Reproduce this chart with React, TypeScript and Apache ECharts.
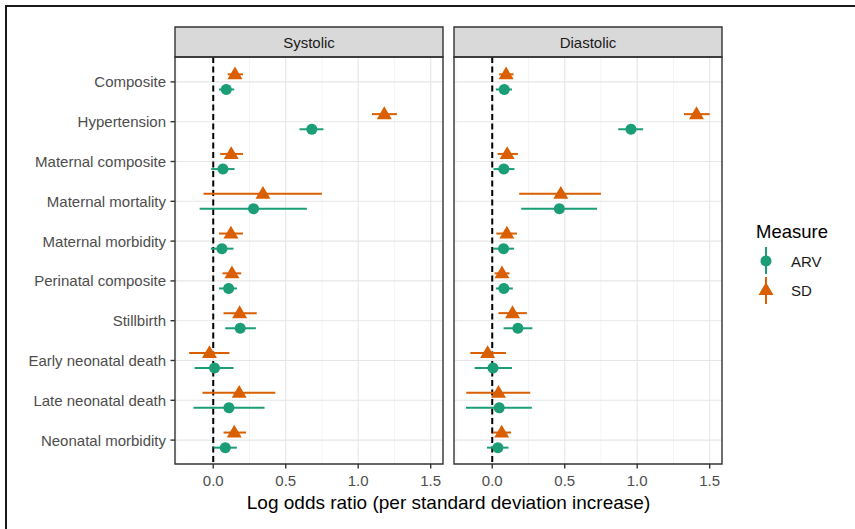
import React, { useEffect, useRef } from "react";
import * as echarts from "echarts";

const categories = [
  "Composite",
  "Hypertension",
  "Maternal composite",
  "Maternal mortality",
  "Maternal morbidity",
  "Perinatal composite",
  "Stillbirth",
  "Early neonatal death",
  "Late neonatal death",
  "Neonatal morbidity",
];

// [estimate, lower, upper]
const systolicARV = [
  [0.09, 0.04, 0.145],
  [0.68, 0.595, 0.76],
  [0.067, -0.014, 0.147],
  [0.278, -0.094, 0.646],
  [0.06, -0.016, 0.14],
  [0.106, 0.04, 0.163],
  [0.186, 0.083, 0.294],
  [0.009, -0.129, 0.14],
  [0.108, -0.136, 0.354],
  [0.083, 0.002, 0.163],
];
const systolicSD = [
  [0.15, 0.1, 0.205],
  [1.18, 1.095, 1.267],
  [0.124, 0.048, 0.205],
  [0.343, -0.067, 0.75],
  [0.122, 0.04, 0.205],
  [0.129, 0.064, 0.193],
  [0.182, 0.071, 0.3],
  [-0.026, -0.166, 0.112],
  [0.179, -0.074, 0.428],
  [0.145, 0.071, 0.226],
];
const diastolicARV = [
  [0.083, 0.025, 0.136],
  [0.957, 0.869, 1.041],
  [0.08, 0.009, 0.153],
  [0.463, 0.2, 0.723],
  [0.078, 0.005, 0.151],
  [0.08, 0.025, 0.142],
  [0.177, 0.078, 0.277],
  [0.005, -0.122, 0.136],
  [0.048, -0.181, 0.273],
  [0.039, -0.036, 0.112],
];
const diastolicSD = [
  [0.096, 0.048, 0.147],
  [1.409, 1.323, 1.5],
  [0.103, 0.037, 0.177],
  [0.473, 0.186, 0.75],
  [0.101, 0.028, 0.17],
  [0.067, 0.016, 0.119],
  [0.14, 0.043, 0.239],
  [-0.032, -0.151, 0.094],
  [0.043, -0.179, 0.262],
  [0.065, 0.005, 0.13],
];

const panelTitles = ["Systolic", "Diastolic"];
const measures = ["ARV", "SD"];
const xGridValues = [-0.25, 0, 0.25, 0.5, 0.75, 1, 1.25, 1.5];
const xTickValues = [0, 0.5, 1, 1.5];
const referenceValue = [0];
const xTitle = "Log odds ratio (per standard deviation increase)";
const legendTitle = "Measure";

const FONT = "'Liberation Sans', Arial, Helvetica, sans-serif";
const ARV_COLOR = "#1B9E77";
const SD_COLOR = "#D95F02";
const PANEL_LEFTS = [175, 454];
const PANEL_W = 268;
const PANEL_TOP = 57;
const PANEL_BOTTOM = 464;
const STRIP_TOP = 27;
const GRID_TOP = 62;
const GRID_H = 398;
const PAD_L = 2;
const FRAME = "#333333";
const TICK_LEN = 4.5;

const isMajor = (v: number) => xTickValues.some((t) => Math.abs(t - v) < 1e-6);

function buildOption() {
  const panels = [
    { arv: systolicARV, sd: systolicSD },
    { arv: diastolicARV, sd: diastolicSD },
  ];
  const grids: any[] = [];
  const xAxes: any[] = [];
  const yAxes: any[] = [];
  const series: any[] = [];

  panels.forEach((p, pi) => {
    const panelLeft = PANEL_LEFTS[pi];
    grids.push({ left: panelLeft + PAD_L, top: GRID_TOP, width: PANEL_W - PAD_L, height: GRID_H });
    xAxes.push({
      type: "value",
      gridIndex: pi,
      min: -0.25,
      max: 1.585,
      interval: 0.25,
      offset: PANEL_BOTTOM - (GRID_TOP + GRID_H),
      axisLine: { show: false },
      axisTick: { show: false },
      axisLabel: {
        customValues: xTickValues,
        fontSize: 15,
        color: "#4D4D4D",
        margin: 9,
        fontFamily: FONT,
        formatter: (v: number) => (isMajor(v) ? v.toFixed(1) : ""),
      },
      splitLine: { show: false },
    });
    yAxes.push({
      type: "category",
      gridIndex: pi,
      data: categories,
      inverse: true,
      offset: PAD_L,
      axisLine: { show: false },
      axisTick: { show: false },
      axisLabel: { show: pi === 0, fontSize: 15, color: "#4D4D4D", margin: 9, fontFamily: FONT },
      splitLine: { show: false },
    });

    // vertical grid lines + x ticks
    series.push({
      type: "custom",
      xAxisIndex: pi,
      yAxisIndex: pi,
      z: 1,
      silent: true,
      clip: false,
      data: xGridValues.map((v) => [v, 0]),
      renderItem: (params: any, api: any) => {
        const v = api.value(0);
        const x = api.coord([v, 0])[0];
        const major = isMajor(v);
        const children: any[] = [
          {
            type: "line",
            shape: { x1: x, y1: PANEL_TOP, x2: x, y2: PANEL_BOTTOM },
            style: { stroke: major ? "#E6E6E6" : "#F2F2F2", lineWidth: major ? 1.1 : 0.8 },
          },
        ];
        if (major) {
          children.push({
            type: "line",
            shape: { x1: x, y1: PANEL_BOTTOM, x2: x, y2: PANEL_BOTTOM + TICK_LEN },
            style: { stroke: FRAME, lineWidth: 1.4 },
          });
        }
        return { type: "group", children };
      },
    });
    // horizontal grid lines + y ticks
    series.push({
      type: "custom",
      xAxisIndex: pi,
      yAxisIndex: pi,
      z: 1,
      silent: true,
      clip: false,
      data: categories.map((_, i) => [0, i]),
      renderItem: (params: any, api: any) => {
        const cs = params.coordSys;
        const y = api.coord([0, api.value(1)])[1];
        const children: any[] = [
          {
            type: "line",
            shape: { x1: cs.x - PAD_L, y1: y, x2: cs.x + cs.width, y2: y },
            style: { stroke: "#E6E6E6", lineWidth: 1.1 },
          },
        ];
        if (pi === 0) {
          children.push({
            type: "line",
            shape: { x1: cs.x - PAD_L - TICK_LEN, y1: y, x2: cs.x - PAD_L, y2: y },
            style: { stroke: FRAME, lineWidth: 1.4 },
          });
        }
        return { type: "group", children };
      },
    });
    // dashed reference line at 0
    series.push({
      type: "custom",
      xAxisIndex: pi,
      yAxisIndex: pi,
      z: 2,
      silent: true,
      clip: false,
      data: referenceValue.map((v) => [v, 0]),
      renderItem: (params: any, api: any) => {
        const x = api.coord([api.value(0), 0])[0];
        return {
          type: "line",
          shape: { x1: x, y1: PANEL_TOP, x2: x, y2: PANEL_BOTTOM },
          style: { stroke: "#000000", lineWidth: 2, lineDash: [6, 3.5] },
        };
      },
    });

    const makeSeries = (name: string, rows: number[][], color: string, kind: string, dir: number) => ({
      type: "custom",
      name,
      xAxisIndex: pi,
      yAxisIndex: pi,
      z: 3,
      clip: false,
      encode: { x: [0, 2, 3], y: 1 },
      data: rows.map((r, i) => [r[0], i, r[1], r[2]]),
      renderItem: (params: any, api: any) => {
        const idx = api.value(1);
        const c = api.coord([api.value(0), idx]);
        const lo = api.coord([api.value(2), idx]);
        const hi = api.coord([api.value(3), idx]);
        const band = api.size([0, 1])[1];
        const y = c[1] + dir * band * 0.19;
        const children: any[] = [
          { type: "line", shape: { x1: lo[0], y1: y, x2: hi[0], y2: y }, style: { stroke: color, lineWidth: 2 } },
        ];
        if (kind === "circle") {
          children.push({ type: "circle", shape: { cx: c[0], cy: y, r: 5.5 }, style: { fill: color } });
        } else {
          children.push({
            type: "polygon",
            shape: { points: [[c[0], y - 7.8], [c[0] - 7.5, y + 5], [c[0] + 7.5, y + 5]] },
            style: { fill: color },
          });
        }
        return { type: "group", children };
      },
    });
    series.push(makeSeries(measures[1], p.sd, SD_COLOR, "triangle", -1));
    series.push(makeSeries(measures[0], p.arv, ARV_COLOR, "circle", 1));
  });

  const txt = (text: string, x: number, y: number, size: number, fill: string, align: string) => ({
    type: "text",
    x,
    y,
    z: 20,
    style: {
      text,
      fontSize: size,
      fontFamily: FONT,
      fill,
      align,
      textAlign: align,
      verticalAlign: "middle",
      textVerticalAlign: "middle",
    },
  });

  const graphic: any[] = [
    {
      type: "rect",
      z: 30,
      shape: { x: 6, y: 6, width: 900, height: 600 },
      style: { fill: "none", stroke: "#1A1A1A", lineWidth: 2 },
    },
  ];
  PANEL_LEFTS.forEach((left, pi) => {
    graphic.push({
      type: "rect",
      z: 10,
      shape: { x: left, y: STRIP_TOP, width: PANEL_W, height: PANEL_TOP - STRIP_TOP },
      style: { fill: "#D9D9D9", stroke: FRAME, lineWidth: 1.4 },
    });
    graphic.push(txt(panelTitles[pi], left + PANEL_W / 2, (STRIP_TOP + PANEL_TOP) / 2, 15, "#1A1A1A", "center"));
    graphic.push({
      type: "rect",
      z: 10,
      shape: { x: left, y: PANEL_TOP, width: PANEL_W, height: PANEL_BOTTOM - PANEL_TOP },
      style: { fill: "none", stroke: FRAME, lineWidth: 1.4 },
    });
  });
  graphic.push(txt(xTitle, (PANEL_LEFTS[0] + PANEL_LEFTS[1] + PANEL_W) / 2, 502, 19, "#000000", "center"));
  // legend
  graphic.push(txt(legendTitle, 756, 231, 18.5, "#000000", "left"));
  const kx = 766;
  graphic.push({ type: "line", z: 20, shape: { x1: kx, y1: 247, x2: kx, y2: 274 }, style: { stroke: ARV_COLOR, lineWidth: 2 } });
  graphic.push({ type: "circle", z: 21, shape: { cx: kx, cy: 261, r: 5.5 }, style: { fill: ARV_COLOR } });
  graphic.push(txt(measures[0], 791, 261, 15, "#1A1A1A", "left"));
  graphic.push({ type: "line", z: 20, shape: { x1: kx, y1: 277, x2: kx, y2: 304 }, style: { stroke: SD_COLOR, lineWidth: 2 } });
  graphic.push({
    type: "polygon",
    z: 21,
    shape: { points: [[kx, 290 - 7.8], [kx - 7.5, 290 + 5], [kx + 7.5, 290 + 5]] },
    style: { fill: SD_COLOR },
  });
  graphic.push(txt(measures[1], 791, 290, 15, "#1A1A1A", "left"));

  return {
    animation: false,
    backgroundColor: "#FFFFFF",
    textStyle: { fontFamily: FONT },
    grid: grids,
    xAxis: xAxes,
    yAxis: yAxes,
    series,
    graphic,
  };
}

export default function App() {
  const ref = useRef<HTMLDivElement>(null);
  useEffect(() => {
    const chart = echarts.init(ref.current as HTMLDivElement, null, { renderer: "svg" });
    chart.setOption(buildOption() as any);
    return () => chart.dispose();
  }, []);
  return (
    <div
      ref={ref}
      style={{ position: "fixed", left: 0, top: 0, width: 855, height: 529, background: "#FFFFFF" }}
    />
  );
}
